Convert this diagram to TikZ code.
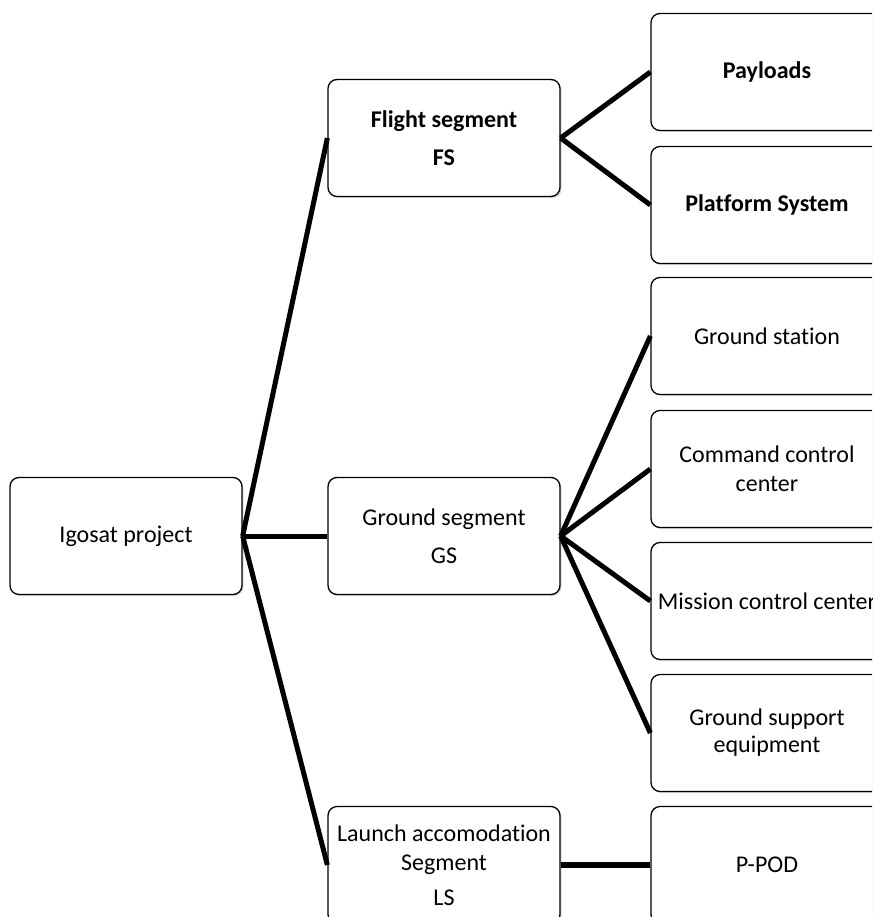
\documentclass[tikz,border=0pt]{standalone}
\usepackage{fontspec}
\setmainfont{Carlito}[Ligatures={NoCommon}]
\usetikzlibrary{shadows}
\tikzset{
  box/.style={draw, line width=1.3pt, rounded corners=9pt, fill=white,
    minimum width=232pt, minimum height=117pt, inner sep=0pt, align=center,
    font=\fontsize{24}{29}\selectfont,
    drop shadow={shadow xshift=1.5pt, shadow yshift=-1.5pt, opacity=0.3}},
  boldbox/.style={box, font=\fontsize{24}{29}\selectfont\bfseries},
  link/.style={line width=5pt},
  podlink/.style={line width=6.5pt}
}
\begin{document}
\begin{tikzpicture}[x=1pt,y=-1pt]
    \useasboundingbox (0,0) rectangle (872,917);
    \clip (0,0) rectangle (872,917);

    % root and segments
    \node[box] (igosat) at (126,536) {Igosat project};
    \node[boldbox] (fs) at (444,138) {Flight segment\\[9pt]FS};
    \node[box] (gs) at (444,536) {Ground segment\\[9pt]GS};
    \node[box] (ls) at (444,865) {Launch accomodation\\Segment\\[6pt]LS};

    % subsystems
    \node[boldbox] (payloads) at (767,72) {Payloads};
    \node[boldbox] (platform) at (767,205) {Platform System};
    \node[box] (station) at (767,336) {Ground station};
    \node[box] (command) at (767,469) {Command control\\center};
    \node[box] (mission) at (767,601) {Mission control center};
    \node[box, font=\fontsize{24}{27}\selectfont] (support) at (767,733) {Ground support\\equipment};
    \node[box] (ppod) at (767,865) {P-POD};

    \foreach \seg in {fs,gs,ls}
        \draw[link] (igosat.east) -- (\seg.west);
    \foreach \sub in {payloads,platform}
        \draw[link] (fs.east) -- (\sub.west);
    \foreach \sub in {station,command,mission,support}
        \draw[link] (gs.east) -- (\sub.west);
    \draw[podlink] (ls.east) -- (ppod.west);
\end{tikzpicture}
\end{document}
